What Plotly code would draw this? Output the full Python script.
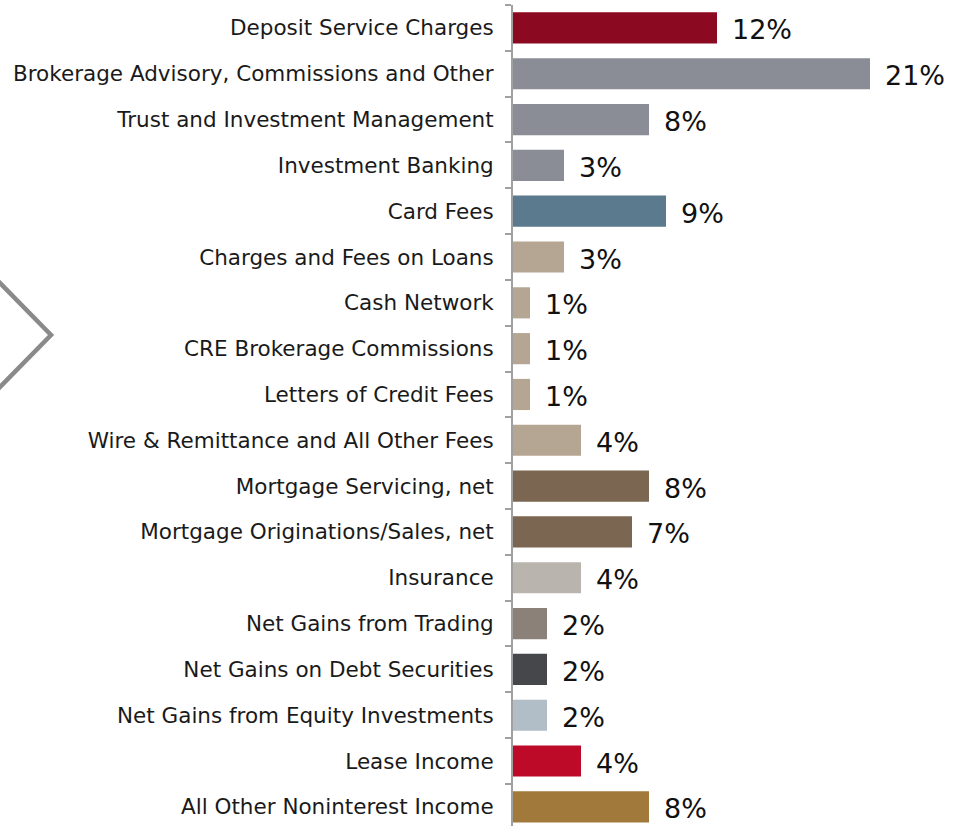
import plotly.graph_objects as go

categories = [
    "Deposit Service Charges",
    "Brokerage Advisory, Commissions and Other",
    "Trust and Investment Management",
    "Investment Banking",
    "Card Fees",
    "Charges and Fees on Loans",
    "Cash Network",
    "CRE Brokerage Commissions",
    "Letters of Credit Fees",
    "Wire & Remittance and All Other Fees",
    "Mortgage Servicing, net",
    "Mortgage Originations/Sales, net",
    "Insurance",
    "Net Gains from Trading",
    "Net Gains on Debt Securities",
    "Net Gains from Equity Investments",
    "Lease Income",
    "All Other Noninterest Income",
]
values = [12, 21, 8, 3, 9, 3, 1, 1, 1, 4, 8, 7, 4, 2, 2, 2, 4, 8]
colors = [
    "#8C0A21", "#8A8D95", "#8A8D95", "#8A8D95", "#5B7A8E",
    "#B5A693", "#B5A693", "#B5A693", "#B5A693", "#B5A693",
    "#7A6651", "#7A6651", "#B9B4AD", "#8B8178", "#46474B",
    "#B1BDC7", "#BE0A29", "#A17A3B",
]

W, H = 957, 826
ML, MR, MT, MB = 513, 0, 5, 0
pw, ph = W - ML - MR, H - MT - MB
px_per_unit = 17.0
row_px = 45.82

fig = go.Figure()
fig.add_trace(go.Bar(
    x=values, y=categories, orientation="h",
    marker=dict(color=colors, line=dict(width=0)),
    width=0.68, hoverinfo="skip",
))

for c, v in zip(categories, values):
    fig.add_annotation(
        x=v, y=c, text=f"{v}%", showarrow=False,
        xanchor="left", yanchor="middle", xshift=13, yshift=-2,
        font=dict(family="DejaVu Sans, Verdana, sans-serif", size=27, color="#111111"),
    )

# decorative chevron on the left
def px2paper(x, y):
    return (x - ML) / pw, (H - MB - y) / ph

pts = [px2paper(-3, 280), px2paper(51, 335), px2paper(-3, 390)]
path = "M {} {} L {} {} L {} {}".format(pts[0][0], pts[0][1], pts[1][0], pts[1][1], pts[2][0], pts[2][1])
fig.add_shape(type="path", xref="paper", yref="paper", path=path,
              line=dict(color="#8A8A8A", width=4.5))

fig.update_layout(
    width=W, height=H,
    margin=dict(l=ML, r=MR, t=MT, b=MB, pad=0),
    plot_bgcolor="white", paper_bgcolor="white",
    showlegend=False,
    bargap=0.32,
    xaxis=dict(range=[0, pw / px_per_unit], visible=False, showgrid=False, zeroline=False),
    yaxis=dict(
        range=[-0.5 + ph / row_px, -0.5],
        categoryorder="array", categoryarray=categories,
        showline=True, linecolor="#A0A0A0", linewidth=2,
        ticks="outside", tickson="boundaries", ticklen=6, tickcolor="#A0A0A0", tickwidth=2,
        ticklabelstandoff=13,
        tickfont=dict(family="DejaVu Sans, Verdana, sans-serif", size=21.5, color="#1a1a1a"),
        showgrid=False, zeroline=False,
    ),
)

fig.write_html("out.html", config={"displayModeBar": False},
               post_script="document.body.style.margin='0';document.body.style.overflow='hidden';")
